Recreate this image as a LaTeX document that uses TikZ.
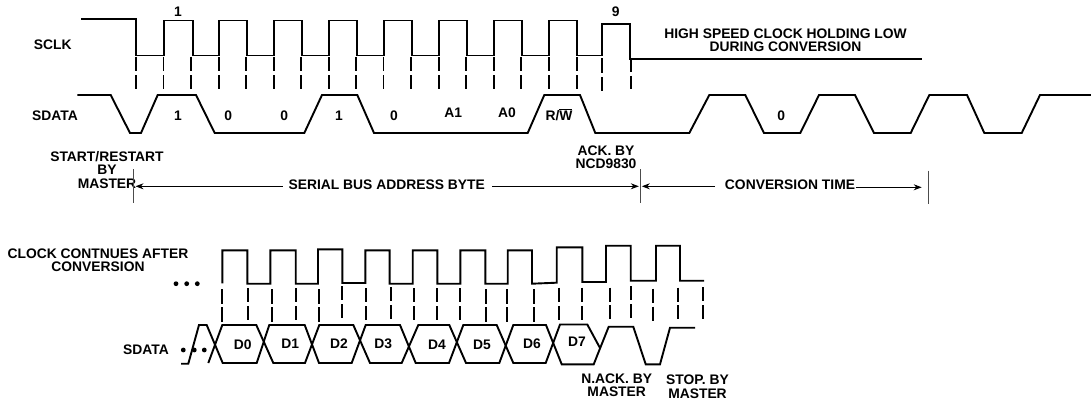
\documentclass[tikz,border=0pt]{standalone}
\usepackage{fontspec}
\setmainfont{Liberation Sans}
\usetikzlibrary{arrows.meta}
\tikzset{
  wave/.style={line width=1.9pt,line join=miter,line cap=butt,black},
  guide/.style={line width=1.8pt,black},
  limit/.style={line width=1pt,black!70},
  span/.style={line width=0.9pt,black,-{Stealth[length=8pt,width=6pt]}},
  lbl/.style={inner sep=0pt,outer sep=0pt,align=center,font=\fontsize{13.85}{13.3}\selectfont\bfseries},
  dot/.style={circle,fill=black,inner sep=0pt,minimum size=4.8pt}
}
% two-piece dashed guide: x, top, bottom
\newcommand{\gd}[3]{%
  \pgfmathsetmacro{\ga}{#2+(#3-#2)*0.44}%
  \pgfmathsetmacro{\gb}{#2+(#3-#2)*0.56}%
  \draw[guide] (#1,#2) -- (#1,\ga) (#1,\gb) -- (#1,#3);}
\begin{document}
\begin{tikzpicture}[x=1pt,y=-1pt]
\useasboundingbox (0,0) rectangle (1091,401);

% upper clock
\draw[wave] (81,19) -- (136,19) -- (136,55.5) -- (164,55.5) -- (164,20.5) -- (192.7,20.5) -- (192.7,55.5)
 -- (219,55.5) -- (219,20.5) -- (247.3,20.5) -- (247.3,55.5) -- (273.7,55.5) -- (273.7,20.5) -- (302,20.5) -- (302,55.5)
 -- (328.7,55.5) -- (328.7,20.5) -- (357.3,20.5) -- (357.3,55.5) -- (384,55.5) -- (384,20.5) -- (412,20.5) -- (412,55.5)
 -- (438.7,55.5) -- (438.7,20.5) -- (467.3,20.5) -- (467.3,55.5) -- (493.7,55.5) -- (493.7,20.5) -- (522.3,20.5) -- (522.3,55.5)
 -- (548.7,55.5) -- (548.7,20.5) -- (577.3,20.5) -- (577.3,55.5) -- (602.3,55.5) -- (602.3,23.7) -- (630.3,23.7) -- (630.3,58.7)
 -- (922.3,58.7);

% upper guides
\foreach \x in {136,163.5,191,218.7,246.3,273.7,301.3,329,356.3,383.5,411,438.7,466.3,493.7,521.3,549,576.7}
  {\gd{\x}{57}{89.3}}
\gd{601.7}{58.5}{91.5}
\gd{631}{58.5}{89.5}

% upper data
\draw[wave] (77.3,95) -- (110.7,95) -- (130,133) -- (141,133) -- (157.7,95) -- (196,95) -- (214.7,133) -- (304.3,133)
 -- (322,95) -- (357.3,95) -- (374,133) -- (527.7,133) -- (544.3,95) -- (580,95) -- (595.3,133) -- (689.3,133)
 -- (709.3,95) -- (745.3,95) -- (764,133) -- (800.3,133) -- (819,95) -- (855,95) -- (874,133) -- (910.7,133)
 -- (929.3,95) -- (967,95) -- (984.3,133) -- (1021.7,133) -- (1040,95) -- (1091,95);

% labels upper
\node[lbl] (sclk) at (52.7,45) {SCLK};
\node[lbl] (sdata) at (55,115.3) {SDATA};
\node[lbl] (pulse1) at (178,12) {1};
\node[lbl] (pulse9) at (615.7,12) {9};
\node[lbl] (b1) at (178,115.3) {1};
\node[lbl] (b2) at (228.3,115.3) {0};
\node[lbl] (b3) at (284.3,115.3) {0};
\node[lbl] (b4) at (339,115.3) {1};
\node[lbl] (b5) at (394,115.3) {0};
\node[lbl] (b6) at (453.3,112.7) {A1};
\node[lbl] (b7) at (507,112.7) {A0};
\node[lbl] (b8) at (559,115.3) {R/\smash{$\overline{\mbox{W}}$}};
\node[lbl] (b9) at (781.3,115.3) {0};
\node[lbl] (hold) at (785.5,40.3) {\fontsize{13.85}{14}\selectfont HIGH SPEED CLOCK HOLDING LOW\\\fontsize{13.85}{14}\selectfont DURING CONVERSION};
\node[lbl] (start) at (107,170) {\fontsize{13.85}{12.7}\selectfont START/RESTART\\BY\\MASTER};
\node[lbl] (ack) at (606,157.3) {ACK. BY\\NCD9830};
\node[lbl] (addr) at (386.7,185) {SERIAL BUS ADDRESS BYTE};
\node[lbl] (conv) at (790,185) {CONVERSION TIME};

% limits and spans
\coordinate (l1t) at (133.7,169.3); \coordinate (l1b) at (133.7,202.7);
\coordinate (l2t) at (640.3,169.3); \coordinate (l2b) at (640.3,202.7);
\coordinate (l3t) at (928,170.7);   \coordinate (l3b) at (928,204);
\coordinate (a1) at (135.5,186.3);
\coordinate (a1s) at (282.7,186.3);
\coordinate (a2) at (638.8,186.3);
\coordinate (a2s) at (492,186.3);
\coordinate (a3) at (641.8,186.3);
\coordinate (a3s) at (715,186.3);
\coordinate (a4) at (921.7,187.3);
\coordinate (a4s) at (855.7,187.3);
\draw[limit] (l1t) -- (l1b);
\draw[limit] (l2t) -- (l2b);
\draw[limit] (l3t) -- (l3b);
\draw[span] (a1s) -- (a1);
\draw[span] (a2s) -- (a2);
\draw[span] (a3s) -- (a3);
\draw[span] (a4s) -- (a4);

% lower clock
\draw[wave] (222.3,283.3) -- (222.3,250.3) -- (247.3,250.3) -- (247.3,283.7) -- (270.3,283.7) -- (270.3,250.3) -- (295.7,250.3) -- (295.7,283.7)
 -- (318,283.7) -- (318,249.3) -- (342.3,249.3) -- (342.3,283) -- (365.3,283) -- (365.3,250.3) -- (389.6,250.3) -- (389.6,283.7)
 -- (412.7,283.7) -- (412.7,250.3) -- (437.3,250.3) -- (437.3,283.7) -- (460.3,283.7) -- (460.3,250.3) -- (485.3,250.3) -- (485.3,283.7)
 -- (507.7,283.7) -- (507.7,250.3) -- (532,250.3) -- (532,283.7) -- (556.7,282.7) -- (556.7,247.3) -- (582.3,247.3) -- (582.3,282)
 -- (606,282) -- (606,245.7) -- (630.7,245.7) -- (630.7,280.7) -- (656,280.7) -- (656,245.7) -- (680,245.7) -- (680,280.7) -- (704,280.7);

% lower guides
\gd{222.3}{289.3}{321.7}
\gd{248}{288}{320}
\gd{272.3}{289.3}{321.7}
\gd{296.3}{288}{320}
\gd{319.3}{289.3}{321.7}
\gd{342.3}{286}{318.3}
\gd{365.7}{288.3}{320}
\gd{391.2}{287}{319}
\gd{414}{288.3}{320}
\gd{437}{288.3}{320}
\gd{460.3}{288.3}{320}
\gd{486.3}{289.3}{321.7}
\gd{507.3}{289.3}{321.7}
\gd{534.3}{289.3}{321.7}
\gd{558.7}{287.7}{320}
\gd{582.3}{287.7}{320}
\gd{610.3}{287.7}{319.3}
\gd{631}{286}{318.3}
\gd{653.3}{288.7}{320.7}
\gd{677.7}{287.7}{319.3}
\gd{703}{287.3}{319.3}

% lower data
\draw[wave] (181,363.7) -- (188.3,363.7) -- (199,325) -- (206.7,325) -- (222.7,363) -- (256.7,363) -- (269.3,325) -- (304.7,325)
 -- (319,363) -- (351.7,363) -- (365.7,325) -- (400,325) -- (415.7,363) -- (449,363) -- (463.3,325) -- (496.7,325)
 -- (513.3,363) -- (545.7,363) -- (560,324.5) -- (587.3,324.5) -- (600,348);
\draw[wave] (208.3,363) -- (222.3,325) -- (256.3,325) -- (273.3,363) -- (305,363) -- (319.3,325) -- (353.3,325)
 -- (370,363) -- (401.7,363) -- (418.3,325) -- (449.3,325) -- (466,363) -- (499.3,363) -- (513.3,325) -- (546,325)
 -- (561.7,364.3) -- (593.7,364.3) -- (608.7,326.7) -- (633.3,326.7) -- (645.7,364.3) -- (660,364.3) -- (670,327.7) -- (695,327.7);

% labels lower
\node[lbl] (cont) at (98,260.3) {\fontsize{13.85}{14}\selectfont CLOCK CONTNUES AFTER\\\fontsize{13.85}{14}\selectfont CONVERSION};
\node[lbl] (sdata2) at (146,349.3) {SDATA};
\node[lbl] (d0) at (242.7,344.3) {D0};
\node[lbl] (d1) at (290.3,343.3) {D1};
\node[lbl] (d2) at (339,343.3) {D2};
\node[lbl] (d3) at (383.3,343.3) {D3};
\node[lbl] (d4) at (437,344.3) {D4};
\node[lbl] (d5) at (482,344.3) {D5};
\node[lbl] (d6) at (532,343.3) {D6};
\node[lbl] (d7) at (577,342) {D7};
\node[lbl] (nack) at (616.7,385.5) {N.ACK. BY\\MASTER};
\node[lbl] (stop) at (697.5,386.8) {STOP. BY\\MASTER};

\foreach \n/\x in {u1/176,u2/186.7,u3/197.3} \node[dot] (\n) at (\x,283.7) {};
\foreach \n/\x in {v1/183.3,v2/194.3,v3/204.3} \node[dot] (\n) at (\x,350) {};
\end{tikzpicture}
\end{document}
